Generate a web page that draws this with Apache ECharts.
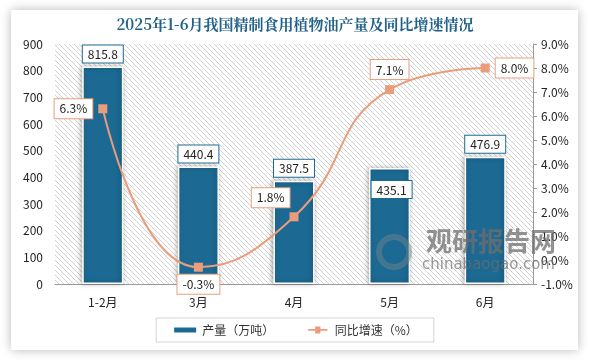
<!DOCTYPE html>
<html><head><meta charset="utf-8">
<script src="https://cdn.jsdelivr.net/npm/echarts@6/dist/echarts.min.js"></script>
<style>
html,body{margin:0;padding:0;background:#fff;}
#card{position:absolute;left:11px;top:10px;width:567px;height:340px;background:#fff;box-shadow:0 0 10px rgba(0,0,0,0.28);}
#main{position:absolute;left:0;top:0;width:590px;height:360px;}
</style></head>
<body>
<div id="card"></div>
<div id="main"></div>
<script>
var categories = ['1-2月','3月','4月','5月','6月'];
var output = [815.8, 440.4, 387.5, 435.1, 476.9];
var growth = [6.3, -0.3, 1.8, 7.1, 8.0];
var outputLabelPos = ['top','top','top','insideTop','top'];
var growthLabelPos = ['left','bottom','left','top','right'];

var tile = document.createElement('canvas');
tile.width = 5; tile.height = 5;
var c = tile.getContext('2d');
c.fillStyle = '#fff'; c.fillRect(0,0,5,5);
c.fillStyle = '#d2d2d2';
for (var i = 0; i < 5; i++) c.fillRect(i, i, 1, 1);

var chart = echarts.init(document.getElementById('main'), null, {renderer:'canvas'});
var font = '"Microsoft YaHei","Noto Sans CJK SC",sans-serif';
var lineIcon = 'path://M0,3H8V0H14V3H22V5H14V8H8V5H0Z';
chart.setOption({
  backgroundColor: 'transparent',
  animation: false,
  textStyle: {fontFamily: font},
  title: {
    text: '2025年1-6月我国精制食用植物油产量及同比增速情况',
    left: 'center', top: 12,
    textStyle: {fontSize: 15, fontWeight: 'bold', color: '#21618a', fontFamily: '"Noto Serif CJK SC","Noto Sans CJK SC",serif'}
  },
  grid: {left: 55, right: 57, top: 44, bottom: 76, show: true, borderWidth: 0,
    backgroundColor: {image: tile, repeat: 'repeat'}},
  legend: {
    bottom: 18, left: 'center',
    borderColor: '#d4d4d4', borderWidth: 1, padding: [6, 16, 6, 16],
    itemGap: 34, itemWidth: 24, itemHeight: 7,
    textStyle: {fontSize: 12, color: '#333'},
    data: [{name: '产量（万吨）', icon: 'rect'}, {name: '同比增速（%）', icon: lineIcon, itemStyle: {color: '#eb9c7b'}}]
  },
  xAxis: {
    type: 'category', data: categories,
    axisLine: {lineStyle: {color: '#999'}},
    axisTick: {show: false},
    axisLabel: {color: '#222', fontSize: 12, margin: 12}
  },
  yAxis: [
    {type: 'value', min: 0, max: 900, interval: 100,
     axisLine: {show: false}, axisTick: {show: false}, splitLine: {show: false},
     axisLabel: {color: '#222', fontSize: 12, margin: 12}},
    {type: 'value', min: -1, max: 9, interval: 1, position: 'right',
     axisLine: {show: true, lineStyle: {color: '#999'}},
     axisTick: {show: true, inside: false, length: 4, lineStyle: {color: '#999'}},
     splitLine: {show: false},
     axisLabel: {color: '#222', fontSize: 12, margin: 8, formatter: function(v){return v.toFixed(1)+'%';}}}
  ],
  series: [
    {name: '产量（万吨）', type: 'bar', barWidth: '43%',
     data: output.map(function(v, i){
       var lab = {position: outputLabelPos[i], distance: 4};
       if (outputLabelPos[i] === 'insideTop') { lab.distance = 13; lab.offset = [2, 0]; }
       return {value: v, label: lab};
     }),
     itemStyle: {color: '#1c6a93', borderColor: '#fff', borderWidth: 1.5,
       shadowColor: 'rgba(0,0,0,0.35)', shadowBlur: 5, shadowOffsetX: -1},
     label: {show: true, color: '#222', fontSize: 12,
       backgroundColor: '#fff', borderColor: '#1c6a93', borderWidth: 1, padding: [3, 5, 2, 5]}},
    {name: '同比增速（%）', type: 'line', yAxisIndex: 1, smooth: true,
     data: growth.map(function(v, i){
       var lab = {position: growthLabelPos[i]};
       if (i === 1) lab.distance = 3;
       if (i === 2) lab.offset = [6, -19];
       return {value: v, label: lab};
     }),
     symbol: 'rect', symbolSize: 9,
     lineStyle: {color: '#eb9c7b', width: 2},
     itemStyle: {color: '#eb9c7b'},
     label: {show: true, distance: 6, color: '#222', fontSize: 12,
       formatter: function(p){return p.value.toFixed(1)+'%';},
       backgroundColor: '#fff', borderColor: '#e8a080', borderWidth: 1, padding: [4, 5, 3, 5]}}
  ],
  graphic: [
    {type: 'text', left: 426, top: 228, z: 100, silent: true,
     style: {text: '观研报告网', font: 'bold 26px "Noto Sans CJK SC"', fill: 'rgba(110,110,110,0.75)'}},
    {type: 'text', left: 422, top: 258, z: 100, silent: true,
     style: {text: 'chinabaogao.com', font: '15px "DejaVu Sans"', fill: 'rgba(110,110,110,0.7)'}},
    {type: 'circle', shape: {cx: 394, cy: 252, r: 15}, z: 100, silent: true,
     style: {fill: 'none', stroke: 'rgba(110,130,140,0.5)', lineWidth: 6}}
  ]
});
</script>
</body></html>
